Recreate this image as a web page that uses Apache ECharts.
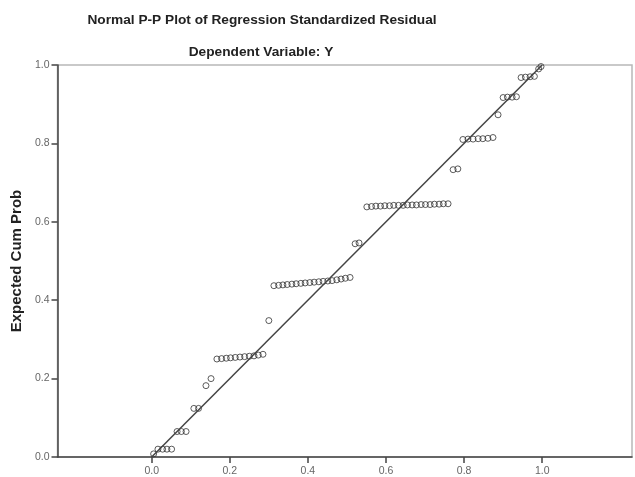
<!DOCTYPE html>
<html>
<head>
<meta charset="utf-8">
<script src="https://cdn.jsdelivr.net/npm/echarts@6/dist/echarts.min.js"></script>
<style>
html,body{margin:0;padding:0;background:#fff;}
#chart{width:635px;height:477px;}
</style>
</head>
<body>
<div id="chart"></div>
<script>
// Observed cumulative probability (x) and expected cumulative probability (y)
var obsCumProb = [
  0.005,
  0.016, 0.028, 0.039, 0.051,
  0.065, 0.076, 0.088,
  0.108, 0.120,
  0.139, 0.152,
  0.167, 0.179, 0.191, 0.202, 0.214, 0.226, 0.238, 0.250, 0.262, 0.273, 0.285,
  0.300,
  0.313, 0.325, 0.336, 0.347, 0.359, 0.370, 0.382, 0.393, 0.405, 0.416, 0.428, 0.439, 0.451, 0.462, 0.474, 0.485, 0.496, 0.508,
  0.521, 0.531,
  0.551, 0.563, 0.574, 0.586, 0.597, 0.609, 0.620, 0.632, 0.644, 0.655, 0.667, 0.678, 0.690, 0.701, 0.713, 0.724, 0.736, 0.747, 0.759,
  0.772, 0.784,
  0.797, 0.810, 0.823, 0.836, 0.848, 0.861, 0.874,
  0.887,
  0.900, 0.911, 0.923, 0.934,
  0.946, 0.957, 0.969, 0.980,
  0.991, 0.997
];
var expCumProb = [
  0.008,
  0.020, 0.020, 0.020, 0.020,
  0.065, 0.065, 0.065,
  0.124, 0.124,
  0.182, 0.200,
  0.250, 0.251, 0.252, 0.253, 0.254, 0.255, 0.256, 0.257, 0.258, 0.260, 0.262,
  0.348,
  0.437, 0.438, 0.439, 0.440, 0.441, 0.442, 0.443, 0.444, 0.445, 0.446, 0.447, 0.448, 0.449, 0.450, 0.452, 0.454, 0.456, 0.458,
  0.544, 0.546,
  0.638, 0.639, 0.640, 0.640, 0.641, 0.641, 0.642, 0.642, 0.642, 0.643, 0.643, 0.643, 0.644, 0.644, 0.644, 0.645, 0.645, 0.646, 0.646,
  0.733, 0.735,
  0.810, 0.811, 0.811, 0.812, 0.812, 0.813, 0.815,
  0.873,
  0.917, 0.918, 0.918, 0.919,
  0.968, 0.969, 0.970, 0.971,
  0.990, 0.996
];
var refLine = [[0, 0], [1, 1]];
var tickValues = [0, 0.2, 0.4, 0.6, 0.8, 1.0];
var titleText = 'Normal P-P Plot of Regression Standardized Residual';
var subtitleText = 'Dependent Variable: Y';
var yAxisTitle = 'Expected Cum Prob';

var points = obsCumProb.map(function (x, i) { return [x, expCumProb[i]]; });

var chart = echarts.init(document.getElementById('chart'));
chart.setOption({
  animation: false,
  backgroundColor: '#fff',
  title: [
    { text: titleText, left: 262, top: 13, padding: 0, textAlign: 'center',
      textStyle: { fontFamily: 'Liberation Sans, Arial, sans-serif', fontSize: 13.7, fontWeight: 'bold', color: '#222' } },
    { text: subtitleText, left: 261, top: 45, padding: 0, textAlign: 'center',
      textStyle: { fontFamily: 'Liberation Sans, Arial, sans-serif', fontSize: 13.7, fontWeight: 'bold', color: '#222' } }
  ],
  grid: { left: 57.5, right: 3, top: 65, bottom: 19.5, show: true, borderColor: '#b8b8b8', borderWidth: 1.5, backgroundColor: '#fff' },
  xAxis: {
    type: 'value', min: -0.2412, max: 1.23,
    splitLine: { show: false },
    axisLine: { onZero: false, lineStyle: { color: '#444', width: 1.5 } },
    axisTick: { customValues: tickValues, length: 6, lineStyle: { color: '#444', width: 1.5 } },
    axisLabel: { customValues: tickValues, margin: 9, fontSize: 10.5, color: '#666',
      fontFamily: 'Liberation Sans, Arial, sans-serif',
      formatter: function (v) { return v.toFixed(1); } }
  },
  yAxis: {
    type: 'value', min: 0, max: 1, interval: 0.2,
    splitLine: { show: false },
    name: yAxisTitle, nameLocation: 'middle', nameGap: 32, nameRotate: 90,
    nameTextStyle: { fontFamily: 'Liberation Sans, Arial, sans-serif', fontSize: 15, fontWeight: 'bold', color: '#222' },
    axisLine: { onZero: false, lineStyle: { color: '#444', width: 1.5 } },
    axisTick: { length: 6, lineStyle: { color: '#444', width: 1.5 } },
    axisLabel: { margin: 8, fontSize: 10.5, color: '#666',
      fontFamily: 'Liberation Sans, Arial, sans-serif',
      formatter: function (v) { return v.toFixed(1); } }
  },
  series: [
    { type: 'line', data: refLine, symbol: 'none', silent: true,
      lineStyle: { color: '#444', width: 1.5 } },
    { type: 'scatter', data: points, symbol: 'circle', symbolSize: 6,
      itemStyle: { color: 'rgba(255,255,255,0)', borderColor: '#333', borderWidth: 1 } }
  ]
});
</script>
</body>
</html>
